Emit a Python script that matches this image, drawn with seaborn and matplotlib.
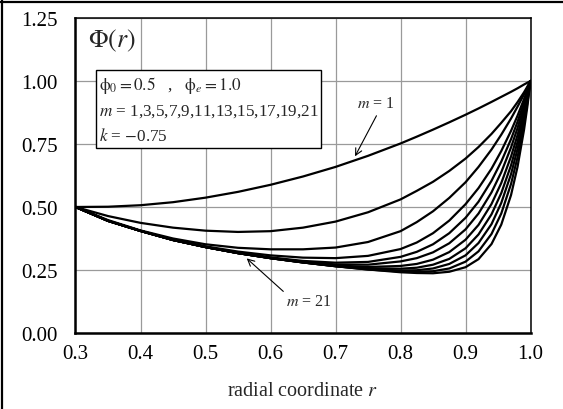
import matplotlib
matplotlib.use("Agg")
import matplotlib.pyplot as plt
import seaborn as sns
import pandas as pd
from matplotlib.ticker import MultipleLocator, FormatStrFormatter
from matplotlib.patches import Rectangle
from matplotlib.lines import Line2D

# radial positions where the profiles are tabulated
r = [0.30, 0.35, 0.40, 0.45, 0.50, 0.55, 0.60, 0.65, 0.70, 0.75, 0.80, 0.825,
     0.85, 0.875, 0.90, 0.92, 0.94, 0.955, 0.97, 0.98, 0.99, 0.995, 1.00]

m_values = [1, 3, 5, 7, 9, 11, 13, 15, 17, 19, 21]

phi_m1 = [0.500, 0.501, 0.507, 0.519, 0.537, 0.560, 0.588, 0.621, 0.659, 0.703, 0.752, 0.779,
          0.807, 0.836, 0.866, 0.891, 0.917, 0.937, 0.957, 0.971, 0.986, 0.993, 1.000]
phi_m3 = [0.500, 0.464, 0.437, 0.418, 0.406, 0.401, 0.404, 0.418, 0.442, 0.479, 0.530, 0.564,
          0.600, 0.643, 0.692, 0.738, 0.790, 0.834, 0.880, 0.916, 0.955, 0.977, 1.000]
phi_m5 = [0.500, 0.448, 0.407, 0.375, 0.352, 0.338, 0.332, 0.332, 0.339, 0.361, 0.404, 0.440,
          0.483, 0.536, 0.598, 0.659, 0.728, 0.787, 0.851, 0.898, 0.947, 0.973, 1.000]
phi_m7 = [0.500, 0.445, 0.405, 0.371, 0.344, 0.323, 0.308, 0.299, 0.297, 0.306, 0.333, 0.359,
          0.396, 0.446, 0.511, 0.575, 0.652, 0.722, 0.802, 0.862, 0.928, 0.963, 1.000]
phi_m9 = [0.500, 0.445, 0.405, 0.369, 0.341, 0.318, 0.300, 0.286, 0.279, 0.282, 0.302, 0.322,
          0.352, 0.396, 0.457, 0.521, 0.604, 0.680, 0.769, 0.838, 0.914, 0.956, 1.000]
phi_m11 = [0.500, 0.445, 0.405, 0.369, 0.341, 0.317, 0.298, 0.283, 0.272, 0.271, 0.284, 0.297,
           0.320, 0.356, 0.411, 0.474, 0.558, 0.638, 0.736, 0.813, 0.900, 0.948, 1.000]
phi_m13 = [0.500, 0.445, 0.405, 0.369, 0.341, 0.317, 0.297, 0.281, 0.268, 0.262, 0.266, 0.274,
           0.291, 0.321, 0.370, 0.429, 0.512, 0.595, 0.700, 0.785, 0.884, 0.940, 1.000]
phi_m15 = [0.500, 0.445, 0.405, 0.369, 0.341, 0.317, 0.297, 0.280, 0.266, 0.257, 0.255, 0.259,
           0.271, 0.294, 0.336, 0.391, 0.471, 0.555, 0.665, 0.758, 0.868, 0.931, 1.000]
phi_m17 = [0.500, 0.445, 0.405, 0.369, 0.341, 0.317, 0.297, 0.280, 0.265, 0.254, 0.248, 0.249,
           0.256, 0.274, 0.308, 0.357, 0.432, 0.516, 0.630, 0.730, 0.851, 0.922, 1.000]
phi_m19 = [0.500, 0.445, 0.405, 0.369, 0.341, 0.317, 0.297, 0.280, 0.265, 0.252, 0.244, 0.242,
           0.245, 0.256, 0.283, 0.324, 0.393, 0.474, 0.591, 0.697, 0.831, 0.910, 1.000]
phi_m21 = [0.500, 0.445, 0.405, 0.369, 0.341, 0.317, 0.297, 0.280, 0.265, 0.252, 0.241, 0.238,
           0.237, 0.243, 0.261, 0.293, 0.353, 0.430, 0.547, 0.659, 0.806, 0.896, 1.000]

profiles = [phi_m1, phi_m3, phi_m5, phi_m7, phi_m9, phi_m11,
            phi_m13, phi_m15, phi_m17, phi_m19, phi_m21]

x_ticks = [0.3, 0.4, 0.5, 0.6, 0.7, 0.8, 0.9, 1.0]
y_ticks = [0.00, 0.25, 0.50, 0.75, 1.00, 1.25]

rows = []
for m, phi in zip(m_values, profiles):
    for ri, pi in zip(r, phi):
        rows.append({"r": ri, "Phi": pi, "m": m})
df = pd.DataFrame(rows)

sns.set_theme(style="white")
plt.rcParams["font.family"] = ["Liberation Serif", "DejaVu Serif"]
plt.rcParams["mathtext.fontset"] = "stix"

fig = plt.figure(figsize=(5.63, 4.10), dpi=100)
ax = fig.add_axes([0.1341, 0.1854, 0.8082, 0.7683])

sns.lineplot(data=df, x="r", y="Phi", hue="m", units="m", estimator=None,
             palette={m: "black" for m in m_values}, linewidth=1.6,
             legend=False, ax=ax, zorder=3)

ax.set_xlim(0.3, 1.0)
ax.set_ylim(0.0, 1.25)
ax.set_xticks(x_ticks)
ax.set_yticks(y_ticks)
ax.xaxis.set_major_formatter(FormatStrFormatter("%.1f"))
ax.yaxis.set_major_formatter(FormatStrFormatter("%.2f"))
ax.xaxis.set_minor_locator(MultipleLocator(0.05))
ax.yaxis.set_minor_locator(MultipleLocator(0.125))
ax.grid(True, which="major", color="#9a9a9a", linewidth=0.9, zorder=0)
ax.set_axisbelow(True)

ax.tick_params(axis="both", which="both", direction="in", colors="black",
               labelsize=15, top=False, right=False)
ax.tick_params(axis="both", which="major", length=5, width=1.2)
ax.tick_params(axis="both", which="minor", length=4, width=1.0)
ax.tick_params(axis="x", which="major", pad=8)
ax.tick_params(axis="y", which="major", pad=13)

for side in ["left", "bottom"]:
    ax.spines[side].set_color("black")
    ax.spines[side].set_linewidth(1.8)
for side in ["top", "right"]:
    ax.spines[side].set_color("black")
    ax.spines[side].set_linewidth(1.1)

ax.set_xlabel("radial coordinate $r$", fontsize=14.5, labelpad=13)
ax.set_ylabel("")

ax.text(0.319, 1.163, r"$\Phi(r)$", fontsize=18.5, ha="left", va="center", zorder=5)

# parameter box
ax.add_patch(Rectangle((0.3316, 0.7356), 0.3461, 0.3071, facecolor="white",
                       edgecolor="black", linewidth=1.0, zorder=4))
ax.text(0.336, 0.987, r"$\mathrm{\phi}_0 = 0.5$   ,   $\mathrm{\phi}_e = 1.0$",
        fontsize=12.3, ha="left", va="center", zorder=5)
ax.text(0.336, 0.882, r"$m$ = 1,3,5,7,9,11,13,15,17,19,21", fontsize=12.3,
        ha="left", va="center", zorder=5)
ax.text(0.336, 0.783, r"$k$ = $-$0.75", fontsize=12.3,
        ha="left", va="center", zorder=5)

arrow = dict(arrowstyle="->", color="black", lw=0.8, shrinkA=0, shrinkB=0)
ax.text(0.7615, 0.914, r"$m$ = 1", fontsize=11.5, ha="center", va="center", zorder=5)
ax.annotate("", xy=(0.730, 0.701), xytext=(0.763, 0.862),
            arrowprops=arrow, zorder=5)
ax.text(0.659, 0.127, r"$m$ = 21", fontsize=11.5, ha="center", va="center", zorder=5)
ax.annotate("", xy=(0.5634, 0.296), xytext=(0.6197, 0.165),
            arrowprops=arrow, zorder=5)

# frame lines along the top and left edges of the figure
fig.add_artist(Line2D([0, 1], [1 - 2.5 / 410, 1 - 2.5 / 410], color="black", lw=1.6))
fig.add_artist(Line2D([1.5 / 563, 1.5 / 563], [0, 1], color="black", lw=1.6))

fig.savefig("out.png", dpi=100)
